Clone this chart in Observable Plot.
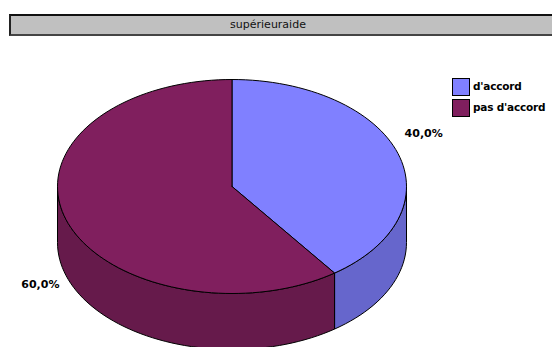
<!DOCTYPE html>
<html><head><meta charset="utf-8">
<script src="https://cdn.jsdelivr.net/npm/d3@7"></script>
<script src="https://cdn.jsdelivr.net/npm/@observablehq/plot@0.6"></script>
<style>
html,body{margin:0;padding:0;background:#fff;overflow:hidden;}
#wrap{position:relative;width:552px;height:347px;overflow:hidden;}
#title{position:absolute;left:9px;top:14px;width:700px;height:18px;background:#C0C0C0;border-top:2px solid #111;border-left:2px solid #222;border-bottom:2px solid #444;border-right:none;box-sizing:content-box;}
#title span{position:absolute;left:0;width:514px;text-align:center;top:2px;font:11px "DejaVu Sans",sans-serif;color:#111;}
.lg{position:absolute;left:452px;width:16px;height:16px;border:1px solid #000;}
.lt{position:absolute;left:473px;font:bold 10.5px "DejaVu Sans",sans-serif;color:#000;letter-spacing:-0.2px;white-space:nowrap;}
</style></head>
<body><div id="wrap"></div>
<script>
const categories = ["d'accord", "pas d'accord"];
const values = [40, 60];
const pctLabels = ["40,0%", "60,0%"];
const topColors = ["#8080FF", "#801F5E"];
const sideColors = ["#6666CC", "#661A4B"];

const D = 56 / 107; // depth in y units
const arcs = d3.pie().sort(null).startAngle(0).endAngle(2 * Math.PI)(values);
const N = 160;
function arcPts(a0, a1, dy) {
  const n = Math.max(2, Math.ceil(N * (a1 - a0) / (2 * Math.PI)));
  return d3.range(n + 1).map(i => {
    const a = a0 + (a1 - a0) * i / n;
    return {x: Math.sin(a), y: Math.cos(a) - dy};
  });
}
const sides = [], tops = [];
arcs.forEach((d, i) => {
  const s = Math.max(d.startAngle, Math.PI / 2), e = Math.min(d.endAngle, 3 * Math.PI / 2);
  if (e > s) {
    const pts = arcPts(s, e, 0).concat(arcPts(s, e, D).reverse());
    pts.push(pts[0]);
    sides.push({pts, color: sideColors[i]});
  }
  const t = [{x: 0, y: 0}].concat(arcPts(d.startAngle, d.endAngle, 0));
  t.push({x: 0, y: 0});
  tops.push({pts: t, color: topColors[i]});
});
const labelData = arcs.map((d, i) => {
  const m = (d.startAngle + d.endAngle) / 2;
  return {x: 1.155 * Math.sin(m), y: 1.44 * Math.cos(m) + 0.05 - (Math.cos(m) < 0 ? D : 0), label: pctLabels[i]};
});

const marks = [];
sides.forEach(p => marks.push(Plot.line(p.pts, {x: "x", y: "y", fill: p.color, stroke: "#000", strokeWidth: 1})));
tops.forEach(p => marks.push(Plot.line(p.pts, {x: "x", y: "y", fill: p.color, stroke: "#000", strokeWidth: 1})));
marks.push(Plot.text(labelData, {x: "x", y: "y", text: "label", fontSize: 11, fontWeight: "bold", fill: "#000"}));

const chart = Plot.plot({
  width: 552, height: 347, margin: 0,
  style: {fontFamily: "DejaVu Sans", background: "transparent"},
  x: {domain: [-1, 1], range: [57, 406], axis: null},
  y: {domain: [-1, 1], range: [293, 79], axis: null},
  marks
});
const wrap = document.getElementById("wrap");
wrap.appendChild(chart);

const title = document.createElement("div");
title.id = "title";
title.innerHTML = "<span>supérieuraide</span>";
wrap.appendChild(title);

categories.forEach((c, i) => {
  const sw = document.createElement("div");
  sw.className = "lg";
  sw.style.top = (78 + i * 21) + "px";
  sw.style.background = topColors[i];
  wrap.appendChild(sw);
  const t = document.createElement("div");
  t.className = "lt";
  t.style.top = (80 + i * 21) + "px";
  t.textContent = c;
  wrap.appendChild(t);
});
</script></body></html>
